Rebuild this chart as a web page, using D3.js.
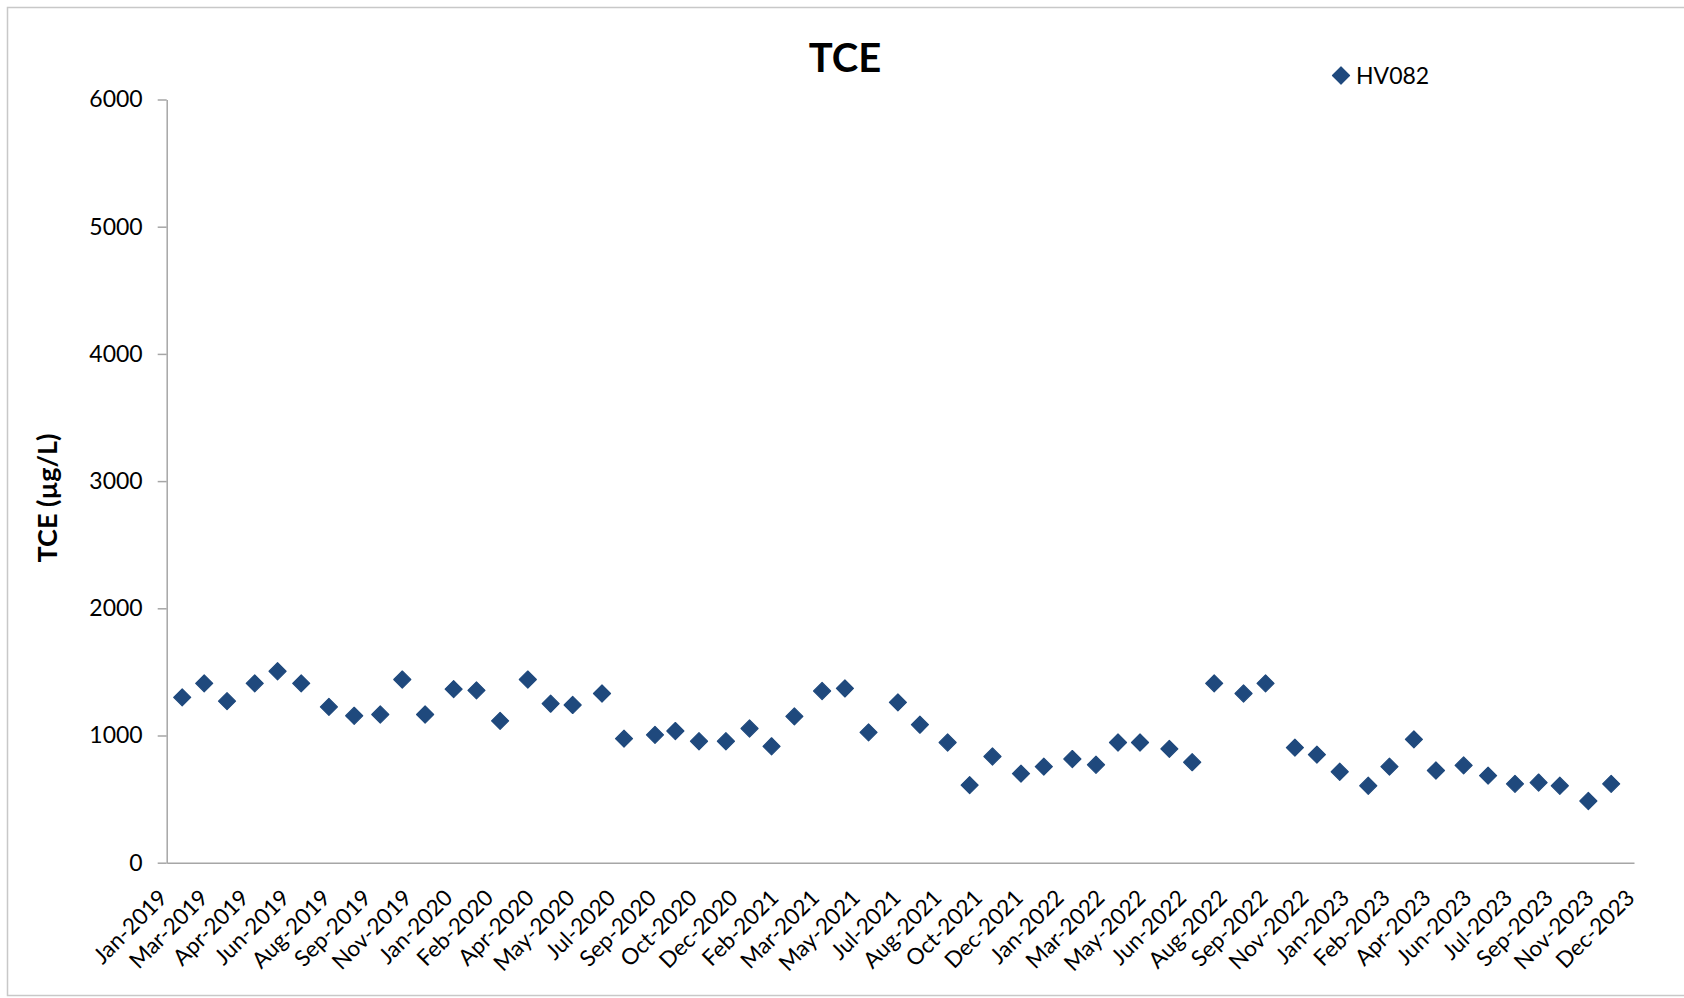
<!DOCTYPE html>
<html>
<head>
<meta charset="utf-8">
<script src="https://cdn.jsdelivr.net/npm/d3@7"></script>
<style>
  html, body { margin: 0; padding: 0; background: #ffffff; }
  svg { display: block; }
  text { font-family: Lato, "Open Sans", "Liberation Sans", sans-serif; fill: #000; }
</style>
</head>
<body>
<svg id="chart" width="1684" height="998"></svg>
<script>
// ---- Data ----
const chartTitle = "TCE";
const yAxisTitle = "TCE (µg/L)";
const seriesName = "HV082";

const sampleDates = [
  "2019-02-05","2019-03-04","2019-04-01","2019-05-05","2019-06-02","2019-07-01","2019-08-04","2019-09-04",
  "2019-10-06","2019-11-02","2019-11-30","2020-01-04","2020-02-01","2020-03-01","2020-04-04","2020-05-02",
  "2020-05-29","2020-07-04","2020-07-31","2020-09-07","2020-10-02","2020-10-31","2020-12-03","2021-01-01",
  "2021-01-28","2021-02-25","2021-03-31","2021-04-28","2021-05-27","2021-07-02","2021-07-29","2021-09-01",
  "2021-09-28","2021-10-26","2021-11-30","2021-12-28","2022-02-01","2022-03-02","2022-03-29","2022-04-25",
  "2022-05-31","2022-06-28","2022-07-25","2022-08-30","2022-09-26","2022-11-01","2022-11-28","2022-12-26",
  "2023-01-30","2023-02-25","2023-03-27","2023-04-23","2023-05-27","2023-06-26","2023-07-29","2023-08-27",
  "2023-09-22","2023-10-27","2023-11-24"
];
const tceValues = [
  1300,1410,1270,1410,1505,1410,1225,1155,
  1165,1440,1165,1365,1355,1115,1440,1250,
  1240,1330,975,1005,1035,955,955,1055,
  915,1150,1350,1370,1025,1260,1085,945,
  610,835,700,755,815,770,945,945,
  895,790,1410,1330,1410,905,850,715,
  605,755,970,725,765,685,620,630,
  605,485,620
];

const xDomainDates = ["2019-01-17", "2023-12-22"];
const xTickDates = [
  "2019-01-17","2019-03-08","2019-04-27","2019-06-16","2019-08-05","2019-09-24","2019-11-13","2020-01-02",
  "2020-02-21","2020-04-11","2020-05-31","2020-07-20","2020-09-08","2020-10-28","2020-12-17","2021-02-05",
  "2021-03-27","2021-05-16","2021-07-05","2021-08-24","2021-10-13","2021-12-02","2022-01-21","2022-03-12",
  "2022-05-01","2022-06-20","2022-08-09","2022-09-28","2022-11-17","2023-01-06","2023-02-25","2023-04-16",
  "2023-06-05","2023-07-25","2023-09-13","2023-11-02","2023-12-22"
];
const xTickLabels = [
  "Jan-2019","Mar-2019","Apr-2019","Jun-2019","Aug-2019","Sep-2019","Nov-2019","Jan-2020",
  "Feb-2020","Apr-2020","May-2020","Jul-2020","Sep-2020","Oct-2020","Dec-2020","Feb-2021",
  "Mar-2021","May-2021","Jul-2021","Aug-2021","Oct-2021","Dec-2021","Jan-2022","Mar-2022",
  "May-2022","Jun-2022","Aug-2022","Sep-2022","Nov-2022","Jan-2023","Feb-2023","Apr-2023",
  "Jun-2023","Jul-2023","Sep-2023","Nov-2023","Dec-2023"
];
const yDomain = [0, 6000];
const yTickValues = [0, 1000, 2000, 3000, 4000, 5000, 6000];

// ---- Layout ----
const W = 1684, H = 998;
const plot = { left: 166.7, right: 1634, top: 99.5, bottom: 862.7 };
const markerColor = "#1F497D";
const axisColor = "#A6A6A6";

const parse = d3.utcParse("%Y-%m-%d");
const data = sampleDates.map((d, i) => ({ date: parse(d), value: tceValues[i] }));

const svg = d3.select("#chart");

// outer chart border
svg.append("rect")
  .attr("x", 7.5).attr("y", 7.5)
  .attr("width", W + 10).attr("height", 988)
  .attr("fill", "#fff")
  .attr("stroke", "#C8C8C8").attr("stroke-width", 1.5);

const x = d3.scaleUtc()
  .domain(xDomainDates.map(parse))
  .range([plot.left, plot.right]);
const y = d3.scaleLinear()
  .domain(yDomain)
  .range([plot.bottom, plot.top]);

// Y axis
const yAxis = svg.append("g")
  .attr("transform", `translate(${plot.left},0)`)
  .call(d3.axisLeft(y).tickValues(yTickValues).tickSizeInner(9).tickSizeOuter(0).tickPadding(15).tickFormat(d3.format("d")));
yAxis.select(".domain").attr("stroke", axisColor).attr("stroke-width", 1.5);
yAxis.selectAll(".tick line").attr("stroke", axisColor).attr("stroke-width", 1.5);
yAxis.selectAll(".tick text")
  .attr("font-size", 23).attr("fill", "#000")
  .style("font-family", "Lato, 'Open Sans', sans-serif");

// X axis
const tickMap = new Map(xTickDates.map((d, i) => [+parse(d), xTickLabels[i]]));
const xAxis = svg.append("g")
  .attr("transform", `translate(0,${plot.bottom})`)
  .call(d3.axisBottom(x).tickValues(xTickDates.map(parse)).tickSize(0).tickFormat(d => tickMap.get(+d)));
xAxis.select(".domain").attr("stroke", axisColor).attr("stroke-width", 1.5);
xAxis.selectAll(".tick text")
  .attr("font-size", 22.5).attr("fill", "#000")
  .style("font-family", "Lato, 'Open Sans', sans-serif")
  .attr("text-anchor", "end")
  .attr("x", 0).attr("y", 0).attr("dy", "0.72em")
  .attr("transform", "translate(-10,25) rotate(-45)");

// Markers
const diamond = d3.symbol().type(d3.symbolSquare).size(145);
svg.append("g")
  .selectAll("path")
  .data(data)
  .join("path")
  .attr("d", diamond)
  .attr("transform", d => `translate(${x(d.date)},${y(d.value)}) rotate(45)`)
  .attr("fill", markerColor)
  .attr("stroke", markerColor)
  .attr("stroke-width", 1.2)
  .attr("stroke-linejoin", "round");

// Title
svg.append("text")
  .attr("x", 845).attr("y", 72)
  .attr("text-anchor", "middle")
  .attr("font-size", 40).attr("font-weight", "bold")
  .text(chartTitle);

// Y axis title
svg.append("text")
  .attr("transform", "translate(57,498) rotate(-90)")
  .attr("text-anchor", "middle")
  .attr("font-size", 27).attr("font-weight", "bold")
  .text(yAxisTitle);

// Legend
const legend = svg.append("g").attr("transform", "translate(1341,75.5)");
legend.append("path")
  .attr("d", diamond)
  .attr("transform", "rotate(45)")
  .attr("fill", markerColor)
  .attr("stroke", markerColor)
  .attr("stroke-width", 1.2)
  .attr("stroke-linejoin", "round");
legend.append("text")
  .attr("x", 15).attr("y", 8)
  .attr("font-size", 23)
  .text(seriesName);
</script>
</body>
</html>
